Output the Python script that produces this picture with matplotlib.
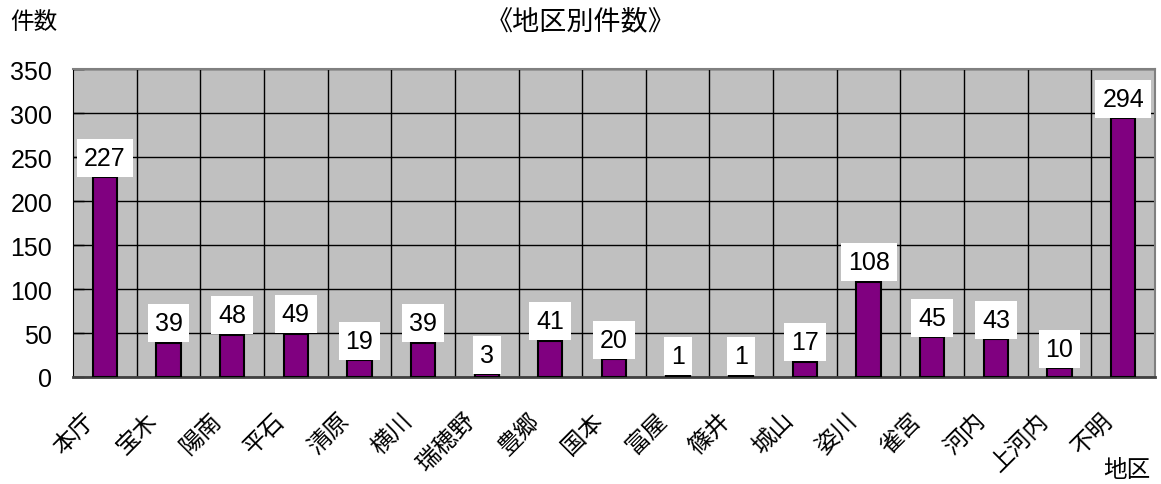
import matplotlib
matplotlib.use('Agg')
import matplotlib.pyplot as plt
import matplotlib.transforms as mtransforms
import numpy as np

# Dados
chiku = ['本庁', '宝木', '陽南', '平石', '清原', '横川', '瑞穂野', '豊郷', '国本',
         '富屋', '篠井', '城山', '姿川', '雀宮', '河内', '上河内', '不明']
kensu = [227, 39, 48, 49, 19, 39, 3, 41, 20, 1, 1, 17, 108, 45, 43, 10, 294]
yticks = [0, 50, 100, 150, 200, 250, 300, 350]

plt.rcParams['font.family'] = ['Liberation Sans', 'Noto Sans CJK JP']

fig = plt.figure(figsize=(11.61, 4.85), dpi=100)
ax = fig.add_axes([73 / 1161, 1 - 378 / 485, (1155 - 73) / 1161, (378 - 70) / 485])
ax.set_facecolor('#C0C0C0')

x = np.arange(len(chiku))
ax.bar(x, kensu, width=0.38, color='#800080', edgecolor='black', linewidth=1.5, zorder=3)

# Rotulos dos valores
for xi, v in zip(x, kensu):
    ax.annotate(str(v), (xi, v), xytext=(0, 5.5), textcoords='offset points',
                ha='center', va='bottom', fontsize=18, zorder=4,
                bbox=dict(boxstyle='square,pad=0.28', facecolor='white', edgecolor='none'))

ax.set_xlim(-0.5, len(chiku) - 0.5)
ax.set_ylim(0, 350)
ax.set_yticks(yticks)
ax.set_xticks(x)
ax.set_xticks(x[:-1] + 0.5, minor=True)

ax.grid(axis='y', which='major', color='black', linewidth=1, zorder=1)
ax.grid(axis='x', which='minor', color='black', linewidth=1, zorder=1)
ax.set_axisbelow(True)

ax.tick_params(axis='y', direction='in', length=8, width=1, labelsize=18, pad=15)
ax.tick_params(axis='x', which='both', length=0, pad=0)

ax.set_xticklabels(chiku, rotation=45, ha='right', va='center',
                   rotation_mode='anchor', fontsize=17)
offset = mtransforms.ScaledTranslation(-0.14, -0.40, fig.dpi_scale_trans)
for lab in ax.get_xticklabels():
    lab.set_transform(lab.get_transform() + offset)

for s in ['top', 'right']:
    ax.spines[s].set_color('#808080')
    ax.spines[s].set_linewidth(1.5)
ax.spines['left'].set_color('black')
ax.spines['bottom'].set_color('#404040')
ax.spines['bottom'].set_linewidth(2)

# Titulos
fig.text(581 / 1161, 1 - 22 / 485, '《地区別件数》', ha='center', va='center', fontsize=19.5)
fig.text(10 / 1161, 1 - 23 / 485, '件数', ha='left', va='center', fontsize=17)
fig.text(1127 / 1161, 1 - 471 / 485, '地区', ha='center', va='center', fontsize=17)

plt.savefig('out.png', dpi=100)
plt.close()
